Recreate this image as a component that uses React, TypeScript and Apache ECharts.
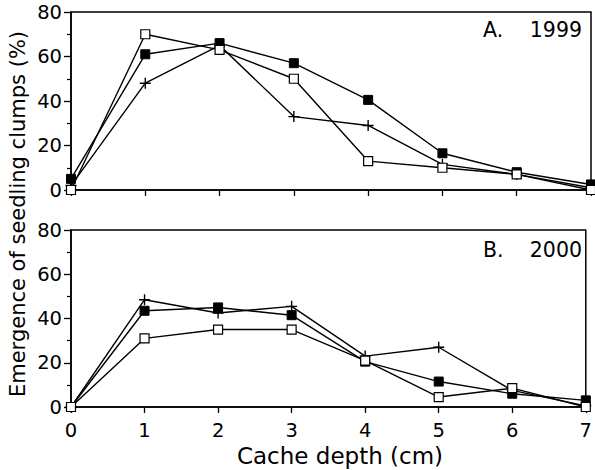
import React, { useEffect, useRef } from "react";
import * as echarts from "echarts";

const depths = [0, 1, 2, 3, 4, 5, 6, 7];
const filledA = [5, 61, 66, 57, 40.5, 16.5, 8, 2.5];
const openA = [0, 70, 63, 50, 13, 10, 7, 0];
const plusA = [2, 48, 65, 33, 29, 11.5, 7, 1];
const filledB = [0, 43.5, 45, 41.5, 20.5, 11.5, 6, 3];
const openB = [0, 31, 35, 35, 21, 4.5, 8.5, 0];
const plusB = [0, 48.5, 42.5, 45.5, 23, 27, 7.5, 0.5];
const yTicks = [0, 20, 40, 60, 80];
const panelLetters = ["A.", "B."];
const panelYears = ["1999", "2000"];

const FONT = "DejaVu Sans";
const PLUS = "path://M0,5L10,5M5,0L5,10";

function pts(vals: number[]) {
  return depths.map((d, i) => [d, vals[i]]);
}

export default function App() {
  const ref = useRef<HTMLDivElement>(null);
  useEffect(() => {
    const chart = echarts.init(ref.current!, null, { renderer: "svg" });
    const grids = [
      { left: 71, top: 12, width: 520, height: 178 },
      { left: 71, top: 230, width: 520, height: 177 },
    ];
    const mkSeries = (vals: number[], kind: string, idx: number) => {
      const base: any = {
        type: "line",
        xAxisIndex: idx,
        yAxisIndex: idx,
        data: pts(vals),
        lineStyle: { color: "#000", width: 1.4 },
        showSymbol: true,
        symbolKeepAspect: true,
      };
      if (kind === "filled") {
        base.symbol = "rect";
        base.symbolSize = 9;
        base.itemStyle = { color: "#000", borderColor: "#000", borderWidth: 1 };
        base.z = 4;
      } else if (kind === "open") {
        base.symbol = "rect";
        base.symbolSize = 9;
        base.itemStyle = { color: "#fff", borderColor: "#000", borderWidth: 1.2 };
        base.z = 5;
      } else {
        base.symbol = PLUS;
        base.symbolSize = 11;
        base.itemStyle = { color: "none", borderColor: "#000", borderWidth: 1.4 };
        base.z = 3;
      }
      return base;
    };
    const xAxis = grids.map((_, i) => ({
      type: "value",
      gridIndex: i,
      min: 0,
      max: 7,
      interval: 1,
      axisLine: { show: true, lineStyle: { color: "#000", width: 1.5 } },
      axisTick: { show: true, length: 6, lineStyle: { color: "#000", width: 1.3 } },
      axisLabel: {
        show: i === 1,
        color: "#000",
        fontSize: 19.5,
        fontFamily: FONT,
        margin: 13,
      },
      splitLine: { show: false },
    }));
    const yAxis = grids.map((_, i) => ({
      type: "value",
      gridIndex: i,
      min: yTicks[0],
      max: yTicks[yTicks.length - 1],
      interval: 20,
      axisLine: { show: true, lineStyle: { color: "#000", width: 1.5 } },
      axisTick: { show: true, length: 7, lineStyle: { color: "#000", width: 1.3 } },
      minorTick: { show: true, splitNumber: 2, length: 4, lineStyle: { color: "#000", width: 1.2 } },
      axisLabel: { color: "#000", fontSize: 19.5, fontFamily: FONT, margin: 9 },
      splitLine: { show: false },
    }));
    const labelStyle = { fontSize: 20.5, fontFamily: FONT, fill: "#000", verticalAlign: "middle" };
    chart.setOption({
      animation: false,
      backgroundColor: "#fff",
      grid: grids.map((g) => ({
        ...g,
        show: true,
        borderColor: "#000",
        borderWidth: 1.5,
        backgroundColor: "transparent",
      })),
      xAxis,
      yAxis,
      series: [
        mkSeries(plusA, "plus", 0),
        mkSeries(filledA, "filled", 0),
        mkSeries(openA, "open", 0),
        mkSeries(plusB, "plus", 1),
        mkSeries(filledB, "filled", 1),
        mkSeries(openB, "open", 1),
      ],
      graphic: [
        { type: "text", x: 483, y: 30, style: { ...labelStyle, text: panelLetters[0], align: "left" } },
        { type: "text", x: 582, y: 30, style: { ...labelStyle, text: panelYears[0], align: "right" } },
        { type: "text", x: 483, y: 250, style: { ...labelStyle, text: panelLetters[1], align: "left" } },
        { type: "text", x: 582, y: 250, style: { ...labelStyle, text: panelYears[1], align: "right" } },
        {
          type: "text",
          x: 18,
          y: 214,
          rotation: Math.PI / 2,
          style: {
            text: "Emergence of seedling clumps (%)",
            fontSize: 21,
            fontFamily: FONT,
            fill: "#000",
            align: "center",
            verticalAlign: "middle",
          },
        },
        {
          type: "text",
          x: 340,
          y: 456,
          style: {
            text: "Cache depth (cm)",
            fontSize: 23,
            fontFamily: FONT,
            fill: "#000",
            align: "center",
            verticalAlign: "middle",
          },
        },
      ],
    });
    return () => chart.dispose();
  }, []);
  return (
    <div
      ref={ref}
      style={{ position: "absolute", left: 0, top: 0, width: 595, height: 470, overflow: "hidden" }}
    />
  );
}
